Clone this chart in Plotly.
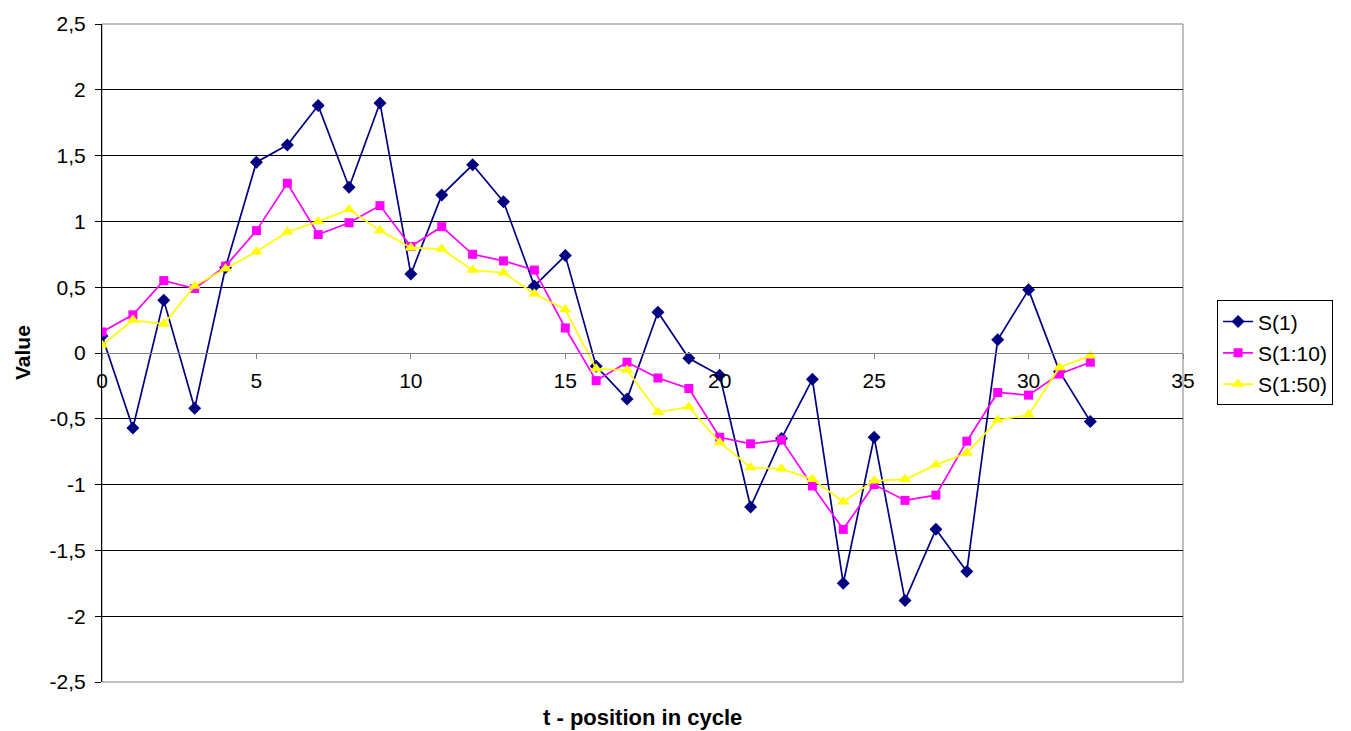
import plotly.graph_objects as go

# position in cycle
t = list(range(33))

s_1 = [0.13, -0.57, 0.40, -0.42, 0.65, 1.45, 1.58, 1.88, 1.26, 1.90,
       0.60, 1.20, 1.43, 1.15, 0.51, 0.74, -0.10, -0.35, 0.31, -0.04,
       -0.17, -1.17, -0.65, -0.20, -1.75, -0.64, -1.88, -1.34, -1.66, 0.10,
       0.48, -0.14, -0.52]

s_1_10 = [0.16, 0.29, 0.55, 0.49, 0.66, 0.93, 1.29, 0.90, 0.99, 1.12,
          0.81, 0.96, 0.75, 0.70, 0.63, 0.19, -0.21, -0.07, -0.19, -0.27,
          -0.64, -0.69, -0.66, -1.01, -1.34, -1.00, -1.12, -1.08, -0.67, -0.30,
          -0.32, -0.16, -0.07]

s_1_50 = [0.06, 0.25, 0.22, 0.51, 0.64, 0.77, 0.92, 1.00, 1.09, 0.93,
          0.80, 0.79, 0.63, 0.61, 0.45, 0.33, -0.12, -0.13, -0.45, -0.41,
          -0.68, -0.87, -0.88, -0.96, -1.13, -0.97, -0.96, -0.85, -0.76, -0.51,
          -0.47, -0.11, -0.02]

x_ticks = [0, 5, 10, 15, 20, 25, 30, 35]
y_ticks = [-2.5, -2, -1.5, -1, -0.5, 0, 0.5, 1, 1.5, 2, 2.5]
y_tick_text = ["-2,5", "-2", "-1,5", "-1", "-0,5", "0", "0,5", "1", "1,5", "2", "2,5"]

FONT = "Liberation Sans, Arial, sans-serif"
TICK_SIZE = 21

fig = go.Figure()
fig.add_trace(go.Scatter(
    x=t, y=s_1, name="S(1)", mode="lines+markers", legendgroup="a",
    line=dict(color="#000080", width=1.7),
    marker=dict(symbol="diamond", size=10, color="#000080"),
))
fig.add_trace(go.Scatter(
    x=t, y=s_1_10, name="S(1:10)", mode="lines+markers", legendgroup="b",
    line=dict(color="#FF00FF", width=1.7),
    marker=dict(symbol="square", size=9, color="#FF00FF"),
))
fig.add_trace(go.Scatter(
    x=t, y=s_1_50, name="S(1:50)", mode="lines+markers", legendgroup="c",
    line=dict(color="#FFFF00", width=1.7),
    marker=dict(symbol="triangle-up", size=11, color="#FFFF00"),
))

# plot-area frame
fig.add_shape(type="rect", xref="paper", yref="paper", x0=0, y0=0, x1=1, y1=1,
              line=dict(color="#808080", width=1), layer="below")

fig.update_layout(
    width=1351, height=731,
    margin=dict(l=102, r=168, t=22, b=49),
    paper_bgcolor="white", plot_bgcolor="white",
    font=dict(family=FONT, size=TICK_SIZE, color="black"),
    showlegend=True,
    legend=dict(
        x=1.0315, y=0.58, xanchor="left", yanchor="top",
        bordercolor="black", borderwidth=1, bgcolor="white",
        font=dict(family=FONT, size=TICK_SIZE, color="black"),
        tracegroupgap=1,
    ),
    xaxis=dict(
        range=[0, 35], tickvals=x_ticks, ticktext=[str(v) for v in x_ticks],
        anchor="free", position=0.5,
        showgrid=False, zeroline=False,
        showline=True, linecolor="#808080", linewidth=1,
        ticks="outside", ticklen=5, tickcolor="#808080",
        ticklabelstandoff=4,
        tickfont=dict(family=FONT, size=TICK_SIZE),
    ),
    yaxis=dict(
        range=[-2.5, 2.5], tickvals=y_ticks, ticktext=y_tick_text,
        showgrid=True, gridcolor="#000000", gridwidth=1,
        zeroline=False,
        showline=True, linecolor="#000000", linewidth=1,
        ticks="outside", ticklen=6, tickcolor="#000000",
        ticklabelstandoff=5,
        tickfont=dict(family=FONT, size=TICK_SIZE),
    ),
    annotations=[
        dict(text="<b>t - position in cycle</b>", xref="paper", yref="paper",
             x=0.5, y=-0.0545, xanchor="center", yanchor="middle",
             showarrow=False, font=dict(family=FONT, size=22)),
        dict(text="<b>Value</b>", xref="paper", yref="paper",
             x=-0.074, y=0.5, xanchor="center", yanchor="middle",
             textangle=-90, showarrow=False, font=dict(family=FONT, size=21)),
    ],
)

fig.write_html("out.html")
